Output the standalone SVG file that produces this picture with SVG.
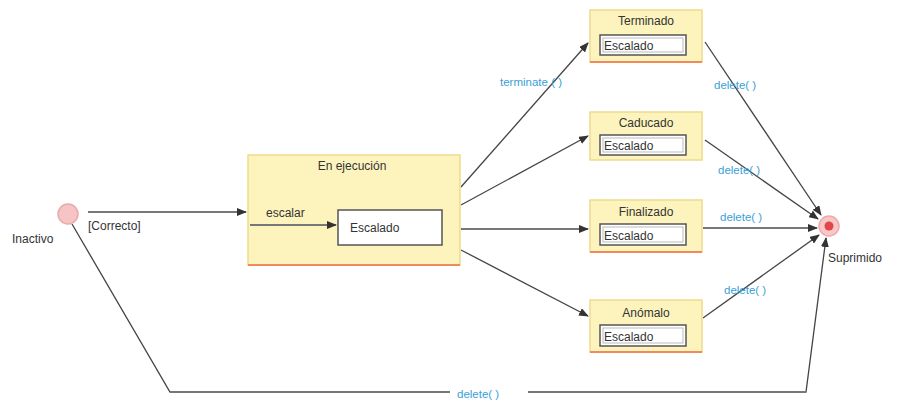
<svg xmlns="http://www.w3.org/2000/svg" width="900" height="404" viewBox="0 0 900 404">
<style>
text{font-family:"Liberation Sans",Arial,sans-serif;font-size:12px;fill:#333}
.lbl{fill:#3a9fd8;font-size:11.5px}
.st{fill:#fdf3bd;stroke:#eedc8c;stroke-width:1.5}
.bot{stroke:#f08a5a;stroke-width:2}
.inner{fill:#fff;stroke:#555;stroke-width:1.5}
.in2{fill:none;stroke:#bbb;stroke-width:1}
.c{fill:none;stroke:#444;stroke-width:1.3}
.ch{fill:none;stroke:#777;stroke-width:2.2}
</style>
<defs>
<marker id="a" markerWidth="10" markerHeight="8" refX="9" refY="4" orient="auto" markerUnits="userSpaceOnUse">
<path d="M0,0 L10,4 L0,8 Z" fill="#333"/>
</marker>
</defs>
<rect width="900" height="404" fill="#fff"/>

<g id="connectors">
<line class="ch" x1="88" y1="212" x2="246" y2="212" marker-end="url(#a)"/>
<line class="c" x1="461" y1="187" x2="588" y2="43" marker-end="url(#a)"/>
<line class="c" x1="461" y1="205" x2="588" y2="136" marker-end="url(#a)"/>
<line class="ch" x1="461" y1="229" x2="588" y2="229" marker-end="url(#a)"/>
<line class="c" x1="461" y1="250" x2="588" y2="316" marker-end="url(#a)"/>
<line class="c" x1="705" y1="42" x2="821" y2="215" marker-end="url(#a)"/>
<line class="c" x1="705" y1="140" x2="818" y2="219" marker-end="url(#a)"/>
<line class="ch" x1="703" y1="228" x2="817" y2="228" marker-end="url(#a)"/>
<line class="c" x1="703" y1="318" x2="819" y2="235" marker-end="url(#a)"/>
<polyline class="c" points="72,224 170,392 450,392"/>
<polyline class="c" points="528,392 806,392 826,238" marker-end="url(#a)"/>
<line class="ch" x1="170" y1="392" x2="450" y2="392" stroke-width="1"/>
<line class="ch" x1="528" y1="392" x2="806" y2="392" stroke-width="1"/>
<text x="88" y="230">[Correcto]</text>
<text class="lbl" x="500" y="86">terminate ( )</text>
<text class="lbl" x="714" y="89">delete( )</text>
<text class="lbl" x="718" y="174">delete( )</text>
<text class="lbl" x="720" y="221">delete( )</text>
<text class="lbl" x="724" y="294">delete( )</text>
<text class="lbl" x="457" y="398">delete( )</text>
</g>

<g id="inactivo">
<circle cx="68" cy="214" r="10" fill="#f6c4c4" stroke="#eaa9a9" stroke-width="1.5"/>
<text x="12" y="243">Inactivo</text>
</g>

<g id="suprimido">
<circle cx="829" cy="226" r="10" fill="#f8c8c8" stroke="#f0a8a8" stroke-width="1.5"/>
<circle cx="829" cy="226" r="4.5" fill="#e04848"/>
<text x="828" y="262">Suprimido</text>
</g>

<g id="en-ejecucion">
<rect class="st" x="248" y="155" width="212" height="110"/>
<line class="bot" x1="248" y1="265" x2="460" y2="265"/>
<text x="352" y="170" text-anchor="middle">En ejecución</text>
<line class="ch" x1="250" y1="225" x2="336" y2="225" marker-end="url(#a)"/>
<text x="266" y="217">escalar</text>
<rect class="inner" x="338" y="210" width="104" height="35"/>
<text x="350" y="232">Escalado</text>
</g>

<g id="terminado">
<rect class="st" x="590" y="10" width="112" height="52"/>
<line class="bot" x1="590" y1="62" x2="702" y2="62" stroke="#f3a7a0"/>
<text x="646" y="25" text-anchor="middle">Terminado</text>
<rect class="inner" x="600" y="35" width="86" height="20"/>
<rect class="in2" x="603" y="38" width="80" height="14"/>
<text x="604" y="50">Escalado</text>
</g>

<g id="caducado">
<rect class="st" x="590" y="112" width="112" height="48"/>
<text x="646" y="127" text-anchor="middle">Caducado</text>
<rect class="inner" x="600" y="135" width="86" height="20"/>
<rect class="in2" x="603" y="138" width="80" height="14"/>
<text x="604" y="150">Escalado</text>
</g>

<g id="finalizado">
<rect class="st" x="590" y="200" width="112" height="52"/>
<line class="bot" x1="590" y1="252" x2="702" y2="252"/>
<text x="646" y="216" text-anchor="middle">Finalizado</text>
<rect class="inner" x="600" y="224" width="86" height="21"/>
<rect class="in2" x="603" y="227" width="80" height="15"/>
<text x="604" y="240">Escalado</text>
</g>

<g id="anomalo">
<rect class="st" x="590" y="300" width="112" height="52"/>
<line class="bot" x1="590" y1="352" x2="702" y2="352"/>
<text x="646" y="317" text-anchor="middle">Anómalo</text>
<rect class="inner" x="600" y="325" width="86" height="21"/>
<rect class="in2" x="603" y="328" width="80" height="15"/>
<text x="604" y="341">Escalado</text>
</g>
</svg>
